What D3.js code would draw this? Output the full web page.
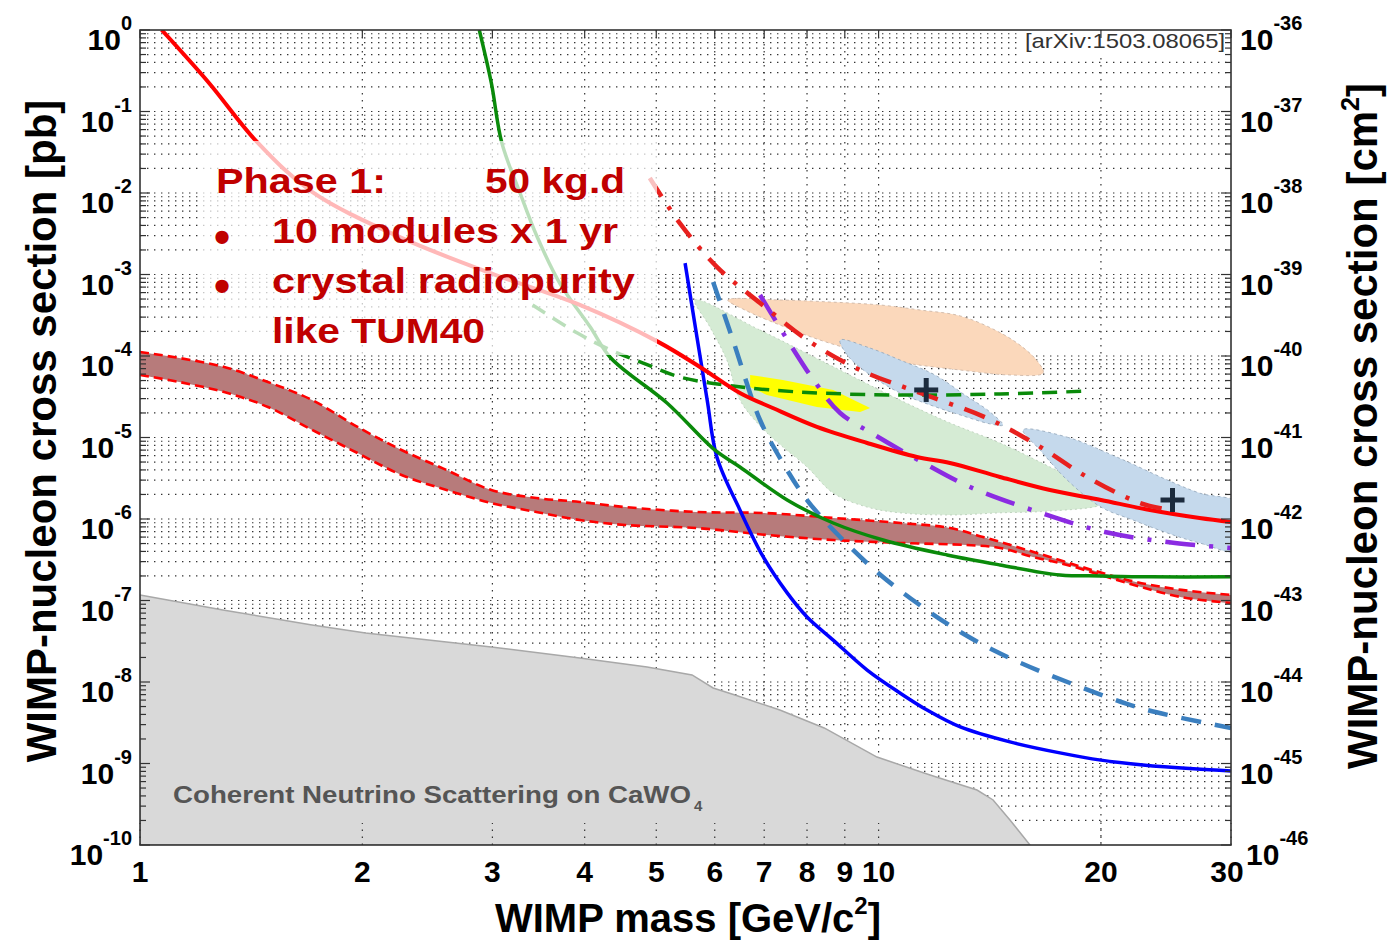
<!DOCTYPE html>
<html lang="en">
  <head>
    <meta charset="UTF-8">
    <script src="https://cdn.jsdelivr.net/npm/d3@7"></script>
    <style>
      body { margin: 0; background: #fff; }
      svg { display: block; }
      text { font-family: Arial, "Liberation Sans", Helvetica, sans-serif; }
    </style>
    <title>WIMP exclusion plot</title>
  </head>
  <body>
    <script>
      // WIMP mass [GeV/c^2] vs cross section [pb]; pairs are [mass, sigma]

      let massTicks = [1, 2, 3, 4, 5, 6, 7, 8, 9, 10, 20, 30];
      let pbExponents = [0, -1, -2, -3, -4, -5, -6, -7, -8, -9, -10];
      let cm2Exponents = [-36, -37, -38, -39, -40, -41, -42, -43, -44, -45, -46];

      let tum40Limit = [[1.07, 1.0], [1.24, 0.224], [1.44, 0.0423], [1.71, 0.0103], [2.26, 2.81e-3],
        [2.99, 1.03e-3], [3.94, 4.23e-4], [5.03, 1.49e-4], [5.73, 7.33e-5], [6.49, 3.52e-5],
        [7.19, 2.3e-5], [8.25, 1.35e-5], [9.65, 8.57e-6], [11.27, 5.77e-6], [12.49, 4.87e-6],
        [14.6, 3.28e-6], [17.06, 2.27e-6], [20, 1.71e-6], [23.3, 1.29e-6], [27.2, 1.03e-6], [30, 9.2e-7]];

      let cdmsliteLimit = [[2.88, 1.0], [2.99, 0.224], [3.09, 0.041], [3.27, 0.01], [3.45, 2.88e-3],
        [3.7, 7.86e-4], [4.07, 2.27e-4], [4.34, 9.45e-5], [5.17, 2.65e-5], [6.0, 7.03e-6],
        [6.49, 4.35e-6], [7.52, 1.71e-6], [8.68, 8.93e-7], [10.14, 5.52e-7], [12.38, 3.62e-7],
        [14.6, 2.73e-7], [17.6, 2.06e-7], [20, 2.0e-7], [23.3, 1.95e-7], [30, 1.95e-7]];

      let greenDashed = [[3.4, 4.23e-4], [3.91, 1.91e-4], [4.33, 1.19e-4], [4.8, 8.2e-5], [5.38, 5.52e-5],
        [6.35, 4.28e-5], [7.83, 3.61e-5], [10.69, 3.32e-5], [14.6, 3.42e-5], [19.3, 3.72e-5]];

      let luxLimit = [[5.47, 1.38e-3], [5.86, 2.88e-5], [6.04, 5.77e-6], [6.49, 1.29e-6], [6.98, 3.42e-7],
        [7.52, 1.24e-7], [8.0, 6.28e-8], [8.68, 3.27e-8], [9.65, 1.4e-8], [10.69, 7.33e-9],
        [11.63, 4.53e-9], [12.9, 2.81e-9], [15.06, 1.84e-9], [17.6, 1.35e-9], [20, 1.1e-9],
        [22.8, 9.6e-10], [26.7, 8.6e-10], [30, 8.1e-10]];

      let blueDashed = [[5.97, 8.09e-4], [6.35, 1.57e-4], [6.91, 1.64e-5], [7.42, 4.87e-6], [8.0, 1.71e-6],
        [8.87, 6.01e-7], [9.95, 2.24e-7], [11.27, 9.31e-8], [12.77, 4.35e-8], [14.29, 2.47e-8],
        [16.03, 1.53e-8], [18.16, 9.72e-9], [20.38, 6.55e-9], [23.1, 4.53e-9], [30, 2.73e-9]];

      let redDashDot = [[4.9, 0.0153], [5.38, 4.28e-3], [6.04, 1.24e-3], [6.91, 4.47e-4], [8.08, 1.49e-4],
        [9.44, 6.73e-5], [11.38, 3.52e-5], [14.02, 1.73e-5], [16.39, 8.09e-6], [19.15, 3.28e-6],
        [22.6, 1.57e-6], [24.8, 1.29e-6]];

      let purpleDashDot = [[6.91, 5.6e-4], [7.63, 1.29e-4], [8.2, 4.8e-5], [8.87, 2.0e-5], [9.89, 1.07e-5],
        [11.45, 5.0e-6], [13.3, 2.47e-6], [16.44, 1.22e-6], [20.25, 6.92e-7], [25.2, 5.08e-7], [30, 4.41e-7]];

      let bandUpper = [[1, 1.12e-4], [1.13, 9.45e-5], [1.3, 7.33e-5], [1.49, 4.8e-5], [1.71, 2.88e-5],
        [1.97, 1.35e-5], [2.26, 7.03e-6], [2.6, 3.99e-6], [2.99, 2.27e-6], [3.44, 1.81e-6],
        [3.94, 1.62e-6], [4.54, 1.4e-6], [5.66, 1.22e-6], [7.06, 1.18e-6], [8.68, 1.03e-6],
        [10.7, 8.93e-7], [12.5, 7.76e-7], [13.85, 6.01e-7], [15.4, 4.53e-7], [17.06, 3.42e-7],
        [19.45, 2.37e-7], [22.3, 1.69e-7], [25.7, 1.35e-7], [30, 1.17e-7]];

      let bandLower = [[1, 5.85e-5], [1.13, 4.8e-5], [1.3, 3.61e-5], [1.49, 2.37e-5], [1.71, 1.24e-5],
        [1.97, 6.45e-6], [2.26, 3.47e-6], [2.6, 2.27e-6], [2.99, 1.57e-6], [3.44, 1.22e-6],
        [3.94, 9.72e-7], [4.54, 8.44e-7], [5.66, 7.76e-7], [7.06, 6.37e-7], [8.68, 5.52e-7],
        [10.7, 5.08e-7], [13.17, 4.8e-7], [14.6, 4.41e-7], [16.18, 3.42e-7], [18.0, 2.73e-7],
        [21.7, 1.64e-7], [25.7, 1.1e-7], [30, 9.31e-8]];

      let neutrinoFloor = [[1, 1.17e-7], [1.295, 7.64e-8], [1.71, 5.0e-8], [2.02, 3.99e-8], [2.6, 3.1e-8],
        [2.99, 2.69e-8], [3.94, 1.97e-8], [4.86, 1.53e-8], [5.59, 1.22e-8], [5.97, 8.44e-9],
        [6.39, 6.92e-9], [7.35, 4.53e-9], [8.44, 2.73e-9], [9.95, 1.2e-9], [11.74, 7.22e-10],
        [13.59, 4.73e-10], [14.29, 3.57e-10], [15.06, 2.03e-10], [16.03, 1e-10], [1, 1e-10]];

      let cdmsSiRegion = [[5.64, 4.87e-4], [6.91, 2.08e-4], [8.59, 7.76e-5], [10.69, 2.88e-5], [12.49, 1.51e-5],
        [14.6, 8.57e-6], [17.06, 4.35e-6], [19.3, 2.47e-6], [20.38, 1.76e-6], [20, 1.49e-6],
        [17.06, 1.25e-6], [14.6, 1.19e-6], [12.49, 1.12e-6], [10.69, 1.19e-6], [9.65, 1.4e-6],
        [8.68, 2.08e-6], [8.0, 4.35e-6], [7.06, 1.14e-5], [6.49, 2.88e-5], [6.23, 8.93e-5], [5.91, 2.27e-4]];

      let peachRegion = [[6.25, 4.87e-4], [7.35, 4.87e-4], [8.59, 4.6e-4], [10.04, 4.23e-4], [11.38, 3.67e-4],
        [12.9, 3.1e-4], [14.38, 2.08e-4], [15.54, 1.36e-4], [16.44, 8.44e-5], [16.7, 6.18e-5],
        [15.06, 5.85e-5], [12.9, 6.73e-5], [10.69, 8.44e-5], [9.44, 1.12e-4], [8.33, 1.57e-4],
        [7.35, 2.4e-4], [6.59, 3.67e-4]];

      let yellowRegion = [[6.7, 5.85e-5], [7.42, 5.08e-5], [8.68, 3.83e-5], [9.74, 2.3e-5], [9.44, 2.06e-5],
        [8.25, 2.37e-5], [7.06, 3.32e-5], [6.7, 4.17e-5]];

      let blueRegion1 = [[8.87, 1.57e-4], [9.74, 1.25e-4], [10.69, 8.93e-5], [11.92, 5.85e-5], [13.09, 3.32e-5],
        [14.15, 2.06e-5], [14.74, 1.42e-5], [14.15, 1.47e-5], [12.9, 1.89e-5], [11.74, 2.51e-5],
        [10.69, 3.52e-5], [9.74, 5.85e-5], [9.09, 1.0e-4]];

      let blueRegion2 = [[15.69, 1.24e-5], [18.0, 1.01e-5], [21.0, 5.77e-6], [24.6, 3.01e-6], [27.2, 2.08e-6],
        [31, 1.5e-6], [31, 4.0e-7], [27.2, 5.08e-7], [24.6, 6.73e-7], [22.1, 9.72e-7], [20, 1.4e-6],
        [18.0, 3.01e-6], [16.54, 7.03e-6]];

      let bestFits = [[11.6, 3.83e-5], [25.0, 1.71e-6]];

      let w = 1387;
      let h = 940;
      let pL = 140, pR = 1231, pT = 30, pB = 845;

      let x = d3.scaleLog().domain([1, 30]).range([pL, pR]);
      let y = d3.scaleLog().domain([1e-10, 1]).range([pB, pT]);
      let yCm = d3.scaleLog().domain([1e-46, 1e-36]).range([pB, pT]);

      let svg = d3.select('body')
                  .append('svg')
                  .attr('width', w)
                  .attr('height', h);

      svg.append('defs').append('clipPath')
          .attr('id', 'plot-area')
          .append('rect')
          .attr('x', pL).attr('y', pT)
          .attr('width', pR - pL).attr('height', pB - pT);

      let plot = svg.append('g').attr('clip-path', 'url(#plot-area)');

      // dotted MATLAB-style grid
      let gridStyle = sel => sel.attr('stroke', '#333').attr('stroke-width', 1.2)
                               .attr('stroke-dasharray', '1.4,5.6');

      plot.append('g').selectAll('line')
          .data(y.ticks(20).filter(v => v > 1.5e-10 && v < 0.95))
          .enter().append('line')
          .attr('x1', pL).attr('x2', pR)
          .attr('y1', d => y(d)).attr('y2', d => y(d))
          .call(gridStyle);

      plot.append('g').selectAll('line')
          .data(x.ticks(20).filter(v => v > 1.05 && v < 29))
          .enter().append('line')
          .attr('y1', pT).attr('y2', pB)
          .attr('x1', d => x(d)).attr('x2', d => x(d))
          .call(gridStyle);

      let smooth = d3.line().x(d => x(d[0])).y(d => y(d[1])).curve(d3.curveCatmullRom.alpha(0.5));
      let closedSmooth = d3.line().x(d => x(d[0])).y(d => y(d[1])).curve(d3.curveCatmullRomClosed.alpha(0.5));
      let straight = d3.line().x(d => x(d[0])).y(d => y(d[1])).curve(d3.curveLinearClosed);

      // coherent neutrino background
      plot.append('path')
          .attr('d', straight(neutrinoFloor))
          .attr('fill', '#d9d9d9')
          .attr('stroke', '#a8a8a8')
          .attr('stroke-width', 1.5);

      // signal regions
      plot.append('path')
          .attr('d', closedSmooth(cdmsSiRegion))
          .attr('fill', '#d5ebd4')
          .attr('stroke', '#b5ccb5').attr('stroke-width', 0.8).attr('stroke-dasharray', '2,3');

      plot.append('path')
          .attr('d', closedSmooth(peachRegion))
          .attr('fill', '#fbd8bb')
          .attr('stroke', '#c8b0a0').attr('stroke-width', 0.8).attr('stroke-dasharray', '3,3');

      plot.append('path')
          .attr('d', straight(yellowRegion))
          .attr('fill', '#ffff00');

      [blueRegion1, blueRegion2].forEach(r => {
        plot.append('path')
            .attr('d', closedSmooth(r))
            .attr('fill', '#c5d9ec')
            .attr('stroke', '#8fa3b8').attr('stroke-width', 0.8).attr('stroke-dasharray', '3,3');
      });

      // expected sensitivity band
      let bandPath = smooth(bandUpper) + 'L' + smooth(bandLower.slice().reverse()).slice(1) + 'Z';
      plot.append('path')
          .attr('d', bandPath)
          .attr('fill', '#b77b7b');

      [bandUpper, bandLower].forEach(edge => {
        plot.append('path')
            .attr('d', smooth(edge))
            .attr('fill', 'none')
            .attr('stroke', '#ff0000')
            .attr('stroke-width', 2.6)
            .attr('stroke-dasharray', '9,5');
      });

      // limit curves
      let curves = [
        { data: blueDashed, color: '#3b7fbf', width: 4.5, dash: '20,14' },
        { data: luxLimit, color: '#0000ff', width: 3.5, dash: null },
        { data: cdmsliteLimit, color: '#0a8a0a', width: 3.5, dash: null },
        { data: greenDashed, color: '#0a8a0a', width: 3.5, dash: '15,9' },
        { data: purpleDashDot, color: '#8b2be2', width: 4.5, dash: '30,14,4,14' },
        { data: tum40Limit, color: '#ff0000', width: 4, dash: null },
        { data: redDashDot, color: '#e8201e', width: 4.5, dash: '22,12,4,12' }
      ];

      curves.forEach(c => {
        plot.append('path')
            .attr('d', smooth(c.data))
            .attr('fill', 'none')
            .attr('stroke', c.color)
            .attr('stroke-width', c.width)
            .attr('stroke-dasharray', c.dash);
      });

      // best fit crosses
      let cross = plot.append('g').selectAll('g')
          .data(bestFits)
          .enter().append('g')
          .attr('transform', d => 'translate(' + x(d[0]) + ',' + y(d[1]) + ')');
      cross.append('line').attr('x1', -12).attr('x2', 12).attr('y1', 0).attr('y2', 0);
      cross.append('line').attr('x1', 0).attr('x2', 0).attr('y1', -12).attr('y2', 12);
      cross.selectAll('line').attr('stroke', '#1c2b3d').attr('stroke-width', 5);

      // faded panel behind the Phase 1 note
      plot.append('rect')
          .attr('x', 200).attr('y', 141)
          .attr('width', 457).attr('height', 214)
          .attr('fill', '#fff')
          .attr('opacity', 0.72);

      let note = svg.append('g')
                    .attr('fill', '#c00000')
                    .attr('font-weight', 'bold')
                    .attr('font-size', 35);
      let noteLines = [
        { t: 'Phase 1:', x: 216, y: 193, len: 170 },
        { t: '50 kg.d', x: 485, y: 193, len: 140 },
        { t: '10 modules x 1 yr', x: 272, y: 243, len: 346 },
        { t: 'crystal radiopurity', x: 272, y: 293, len: 363 },
        { t: 'like TUM40', x: 272, y: 343, len: 213 }
      ];
      noteLines.forEach(l => {
        note.append('text')
            .attr('x', l.x).attr('y', l.y)
            .attr('textLength', l.len)
            .attr('lengthAdjust', 'spacingAndGlyphs')
            .text(l.t);
      });
      [253, 302].forEach(by => {
        note.append('text').attr('x', 214).attr('y', by).attr('font-size', 46).text('\u2022');
      });

      // neutrino label
      svg.append('text')
          .attr('x', 173).attr('y', 803)
          .attr('font-size', 23).attr('font-weight', 'bold')
          .attr('fill', '#555')
          .attr('textLength', 518).attr('lengthAdjust', 'spacingAndGlyphs')
          .text('Coherent Neutrino Scattering on CaWO');
      svg.append('text')
          .attr('x', 694).attr('y', 811)
          .attr('font-size', 15).attr('font-weight', 'bold')
          .attr('fill', '#555')
          .text('4');

      // reference tag
      svg.append('rect')
          .attr('x', 1020).attr('y', 31)
          .attr('width', 208).attr('height', 25)
          .attr('fill', '#fff');
      svg.append('text')
          .attr('x', 1025).attr('y', 48)
          .attr('font-size', 21)
          .attr('fill', '#333')
          .attr('textLength', 200).attr('lengthAdjust', 'spacingAndGlyphs')
          .text('[arXiv:1503.08065]');

      // ticks
      let tickG = svg.append('g').attr('stroke', '#333').attr('stroke-width', 1.2);
      y.ticks(20).forEach(v => {
        let major = Math.abs(Math.log10(v) - Math.round(Math.log10(v))) < 1e-6;
        let len = major ? 10 : 6;
        tickG.append('line').attr('x1', pL).attr('x2', pL + len).attr('y1', y(v)).attr('y2', y(v));
        tickG.append('line').attr('x1', pR).attr('x2', pR - len).attr('y1', y(v)).attr('y2', y(v));
      });
      massTicks.forEach(v => {
        tickG.append('line').attr('x1', x(v)).attr('x2', x(v)).attr('y1', pB).attr('y2', pB - 22)
            .attr('stroke-dasharray', '1.4,5.6');
        tickG.append('line').attr('x1', x(v)).attr('x2', x(v)).attr('y1', pT).attr('y2', pT + 8);
      });

      // frame
      svg.append('rect')
          .attr('x', pL).attr('y', pT)
          .attr('width', pR - pL).attr('height', pB - pT)
          .attr('fill', 'none')
          .attr('stroke', '#333')
          .attr('stroke-width', 1.6);

      // tick labels
      svg.append('g').selectAll('text')
          .data(massTicks)
          .enter().append('text')
          .attr('x', d => d === 30 ? x(d) - 4 : x(d))
          .attr('y', 882)
          .attr('text-anchor', 'middle')
          .attr('font-size', 30)
          .attr('font-weight', 'bold')
          .text(d => d);

      svg.append('g').selectAll('text')
          .data(pbExponents)
          .enter().append('text')
          .attr('x', 132)
          .attr('y', d => y(Math.pow(10, d)) + 20)
          .attr('text-anchor', 'end')
          .attr('font-size', 30)
          .attr('font-weight', 'bold')
          .each(function(d) {
            let t = d3.select(this);
            t.append('tspan').text('10');
            t.append('tspan').attr('dy', -20).attr('font-size', 20).text(d);
          });

      svg.append('g').selectAll('text')
          .data(cm2Exponents)
          .enter().append('text')
          .attr('x', d => d === -46 ? 1246 : 1240)
          .attr('y', d => yCm(Math.pow(10, d)) + 20)
          .attr('font-size', 30)
          .attr('font-weight', 'bold')
          .each(function(d) {
            let t = d3.select(this);
            t.append('tspan').text('10');
            t.append('tspan').attr('dy', -20).attr('font-size', 20).text(d);
          });

      // axis titles
      let xTitle = svg.append('text')
          .attr('x', 688).attr('y', 932)
          .attr('text-anchor', 'middle')
          .attr('font-size', 40)
          .attr('font-weight', 'bold');
      xTitle.append('tspan').text('WIMP mass [GeV/c');
      xTitle.append('tspan').attr('dy', -18).attr('font-size', 24).text('2');
      xTitle.append('tspan').attr('dy', 18).text(']');

      svg.append('text')
          .attr('transform', 'translate(56,431) rotate(-90)')
          .attr('text-anchor', 'middle')
          .attr('font-size', 42)
          .attr('font-weight', 'bold')
          .text('WIMP-nucleon cross section [pb]');

      let yTitleR = svg.append('text')
          .attr('transform', 'translate(1377,426) rotate(-90)')
          .attr('text-anchor', 'middle')
          .attr('font-size', 42)
          .attr('font-weight', 'bold');
      yTitleR.append('tspan').text('WIMP-nucleon cross section [cm');
      yTitleR.append('tspan').attr('dy', -18).attr('font-size', 25).text('2');
      yTitleR.append('tspan').attr('dy', 18).text(']');
    </script>
  </body>
</html>
